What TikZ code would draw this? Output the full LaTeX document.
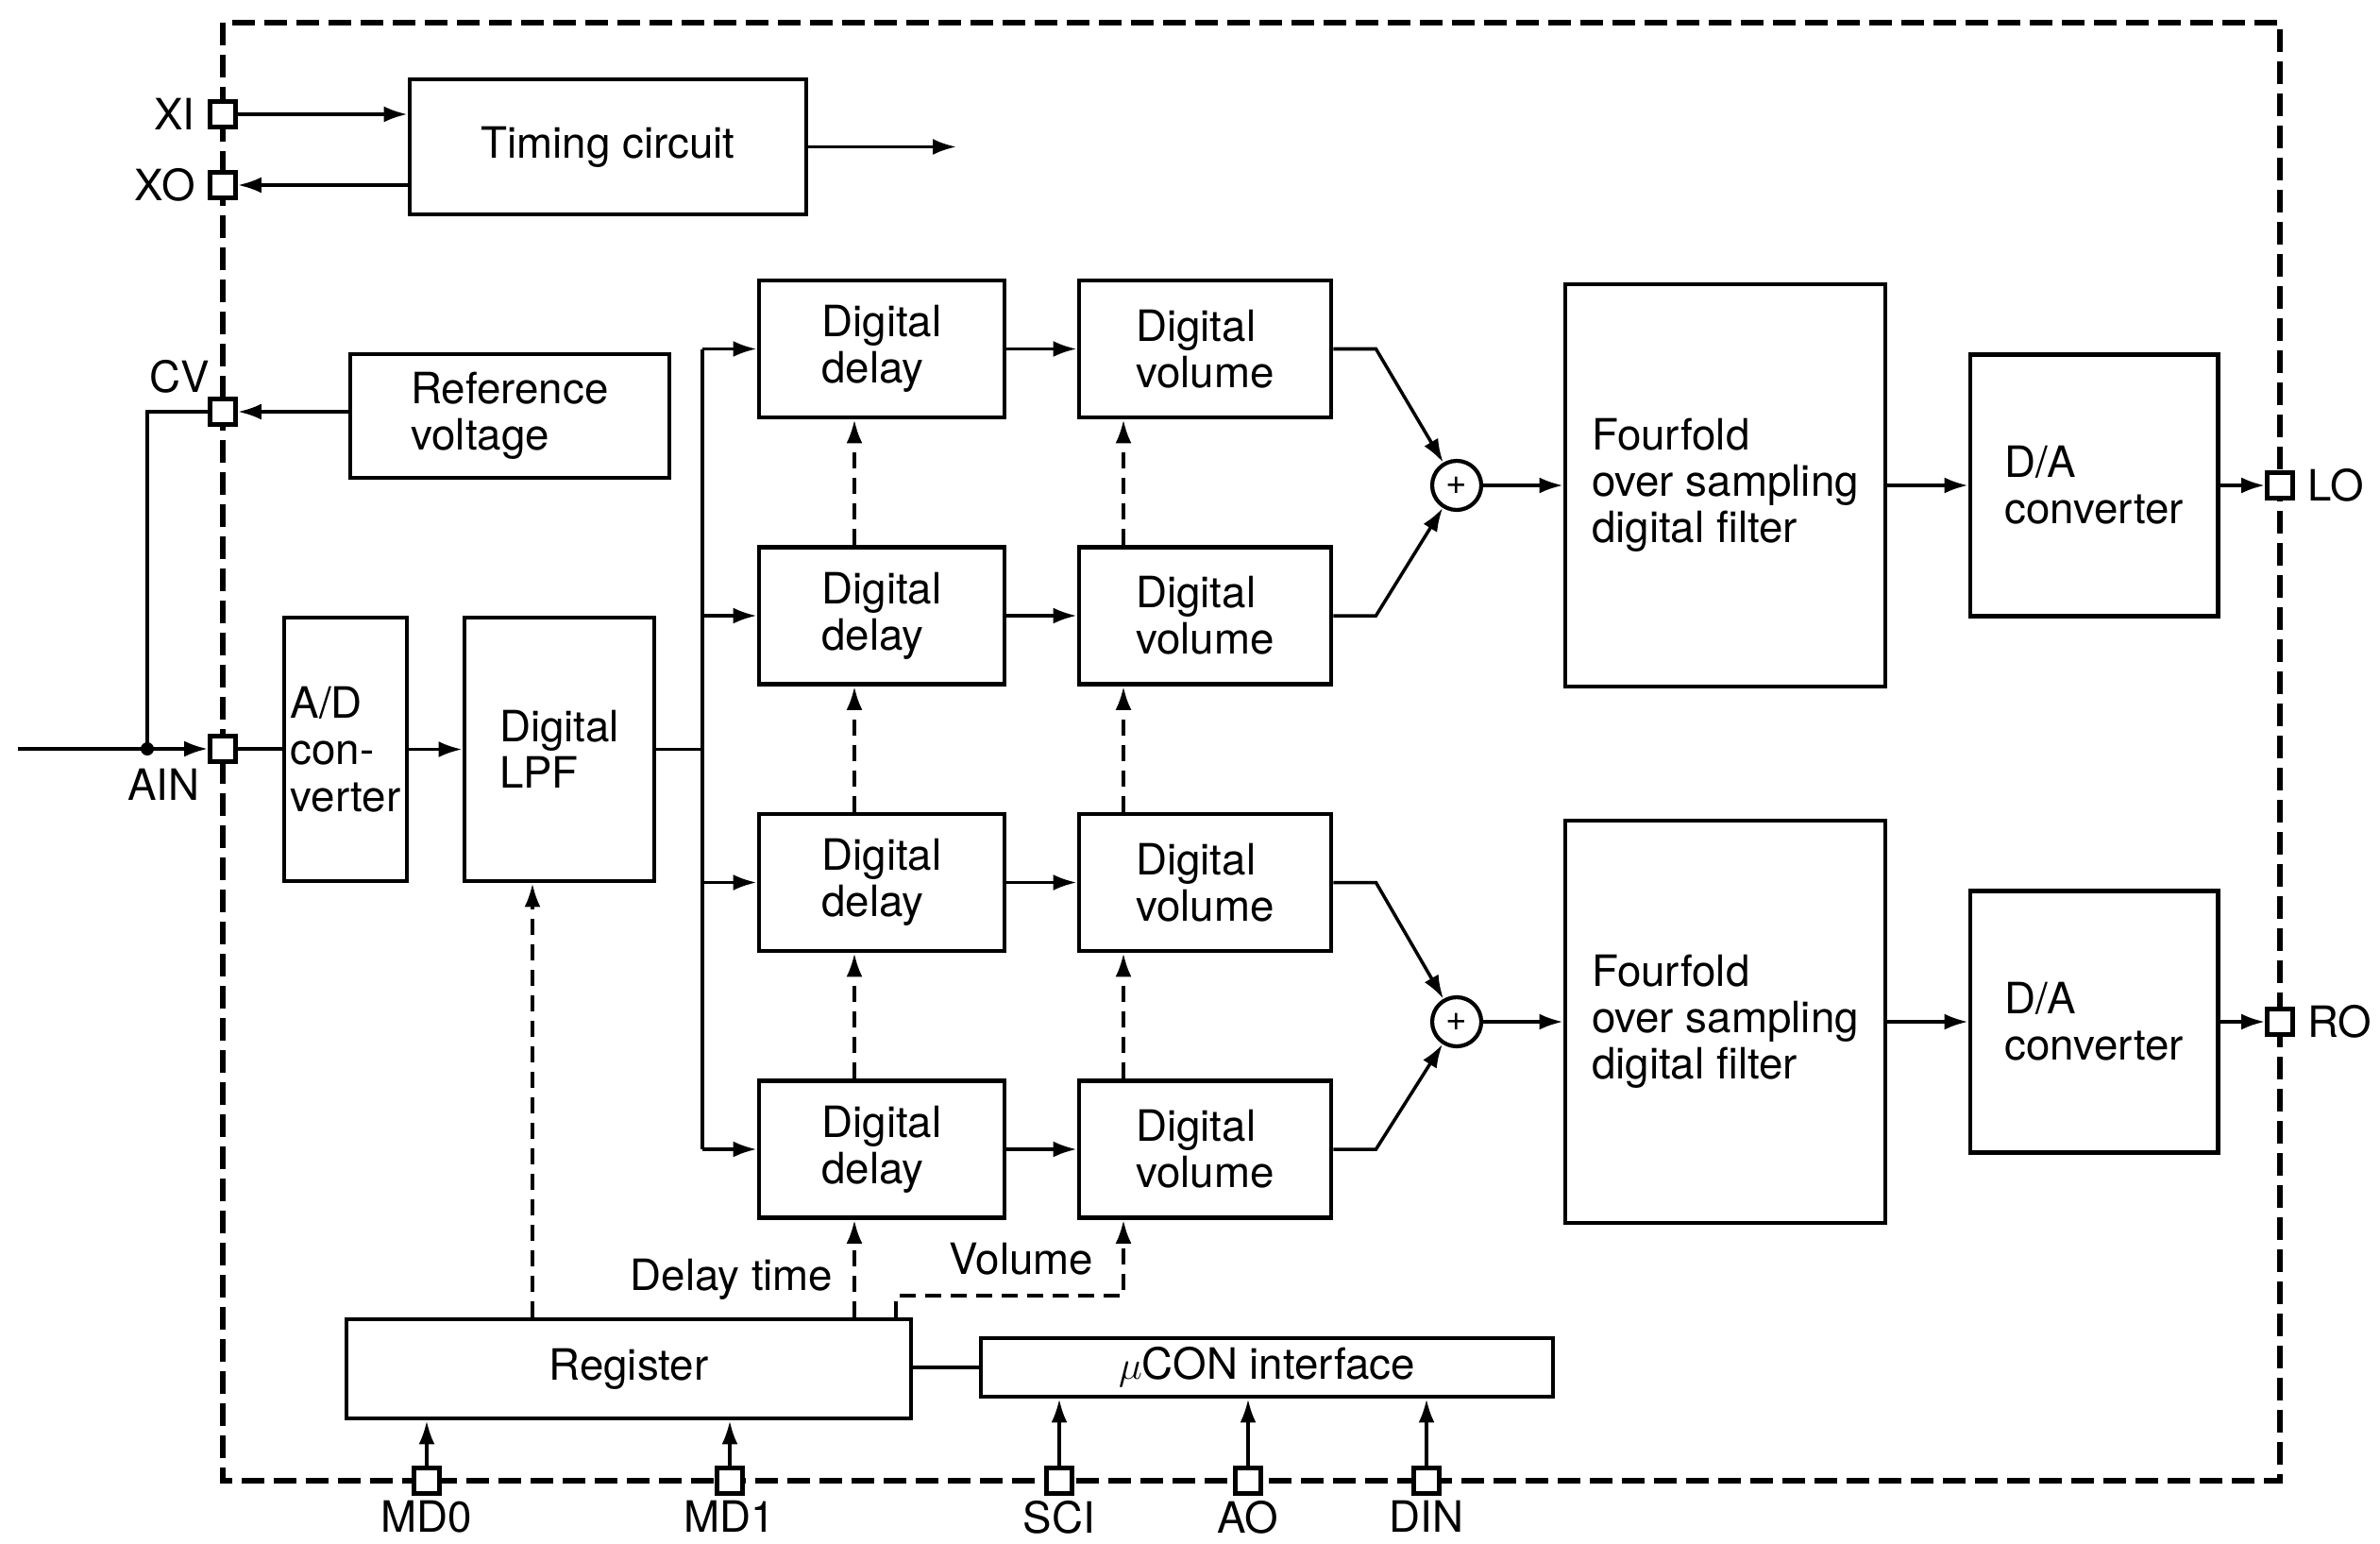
\documentclass[tikz,border=0pt]{standalone}
\usepackage{fontspec}
\setmainfont{TeX Gyre Heros}
\usetikzlibrary{arrows.meta}

\begin{document}
\begin{tikzpicture}[
        font=\fontsize{13}{14}\selectfont,
        >={Latex[length=2.5mm,width=1.7mm]},
        line width=1pt,
        block/.style={draw, line width=1.4pt, align=left, inner sep=0pt},
        pinbox/.style={draw, fill=white, line width=1.4pt, minimum size=0.27cm, inner sep=0pt},
        ctrl/.style={->, dash pattern=on 0.17cm off 0.1cm},
        sum/.style={draw, circle, line width=1.2pt, minimum size=0.52cm, inner sep=0pt, font=\fontsize{11}{11}\selectfont}
    ]
        \useasboundingbox (0,0) rectangle (25.21,-16.34);
        \draw[line width=1.8pt, dash pattern=on 0.24cm off 0.1cm] (2.36,-0.24) rectangle (24.15,-15.68);

        % blocks
        \node[block, minimum width=4.2cm, minimum height=1.43cm] (timing) at (6.44,-1.555) {Timing circuit};
        \node[block, minimum width=3.38cm, minimum height=1.31cm] (refv) at (5.40,-4.405) {Reference\\voltage};
        \node[block, minimum width=1.3cm, minimum height=2.79cm] (adc) at (3.66,-7.935) {A/D\\con-\\verter};
        \node[block, minimum width=2.01cm, minimum height=2.79cm] (lpf) at (5.925,-7.935) {Digital\\LPF};
        \node[block, minimum width=5.98cm, minimum height=1.05cm] (reg) at (6.66,-14.495) {Register};
        \node[block, minimum width=6.06cm, minimum height=0.62cm, align=center] (ucon) at (13.42,-14.48) {$\mu$CON interface};

        \foreach \i/\y in {A/-5.14, B/-10.82} {
            \node[sum] (s\i) at (15.43,\y) {+};
            \node[block, minimum width=3.39cm, minimum height=4.26cm] (ff\i) at (18.275,\y) {Fourfold\\over sampling\\digital filter};
            \node[block, minimum width=2.62cm, minimum height=2.77cm] (da\i) at (22.18,\y) {D/A\\converter};
        }

        % pins
        \node[pinbox, label=left:XI] (XI) at (2.36,-1.21) {};
        \node[pinbox, label=left:XO] (XO) at (2.36,-1.96) {};
        \node[pinbox, label={[xshift=1.5mm, yshift=-1mm]above left:CV}] (CV) at (2.36,-4.36) {};
        \node[pinbox, label={[xshift=0.5mm, yshift=0.8mm]below left:AIN}] (AIN) at (2.36,-7.93) {};
        \node[pinbox, label=right:LO] (LO) at (24.15,-5.14) {};
        \node[pinbox, label=right:RO] (RO) at (24.15,-10.82) {};
        \foreach \n/\x in {MD0/4.52, MD1/7.73, SCI/11.22, AO/13.22, DIN/15.11} {
            \node[pinbox, label={[inner sep=1pt]below:\n}] (\n) at (\x,-15.68) {};
        }

        \coordinate (tout) at (10.13,-1.555);
        \coordinate (ain) at (0.19,-7.93);
        \coordinate (jn) at (1.56,-7.93);
        \coordinate (bus) at (7.44,0);
        \coordinate (colL) at (5.64,0);
        \coordinate (colD) at (9.05,0);
        \coordinate (colV) at (11.90,0);
        \coordinate (vbend) at (9.49,-13.72);

        % clock and reference
        \draw[->] (XI) -- (XI -| timing.west);
        \draw[->] (XO -| timing.west) -- (XO);
        \draw[->] (timing) -- (tout);
        \draw[->] (refv.west |- CV) -- (CV);
        \draw[->] (ain) -- (AIN);
        \fill (jn) circle (0.07);
        \draw (jn) |- (CV);

        % input chain
        \draw (AIN) -- (AIN -| adc.west);
        \draw[->] (adc) -- (lpf);
        \draw (lpf.east) -- (bus |- lpf.east);

        \foreach \i/\y in {1/-3.695, 2/-6.52, 3/-9.345, 4/-12.17} {
            \node[block, minimum width=2.6cm, minimum height=1.45cm] (d\i) at (9.34,\y) {Digital\\delay};
            \node[block, minimum width=2.67cm, minimum height=1.45cm] (v\i) at (12.765,\y) {Digital\\volume};
            \draw[->] (d\i) -- (v\i);
            \draw[->] (bus |- d\i) -- (d\i);
        }
        \draw (bus |- d1) -- (bus |- d4);

        \foreach \a/\b in {4/3, 3/2, 2/1} {
            \draw[ctrl] (d\a.north -| colD) -- (d\b.south -| colD);
            \draw[ctrl] (v\a.north -| colV) -- (v\b.south -| colV);
        }

        % mixing and output
        \draw[->] (v1.east) -- ++(0.45,0) -- (sA);
        \draw[->] (v2.east) -- ++(0.45,0) -- (sA);
        \draw[->] (v3.east) -- ++(0.45,0) -- (sB);
        \draw[->] (v4.east) -- ++(0.45,0) -- (sB);
        \foreach \i/\p in {A/LO, B/RO} {
            \draw[->] (s\i) -- (ff\i);
            \draw[->] (ff\i) -- (da\i);
            \draw[->] (da\i) -- (\p);
        }

        % control
        \draw[ctrl] (reg.north -| colL) -- (lpf.south -| colL);
        \draw[ctrl] (reg.north -| colD) -- (d4.south -| colD);
        \draw[ctrl] (reg.north -| vbend) |- (vbend -| colV) -- (v4.south -| colV);
        \node (dtime) at (7.75,-13.55) {Delay time};
        \node (vol) at (10.82,-13.33) {Volume};

        \draw (reg.east |- ucon.west) -- (ucon.west);
        \draw[->] (MD0) -- (MD0 |- reg.south);
        \draw[->] (MD1) -- (MD1 |- reg.south);
        \foreach \n in {SCI, AO, DIN} {
            \draw[->] (\n) -- (\n |- ucon.south);
        }
    \end{tikzpicture}
\end{document}
